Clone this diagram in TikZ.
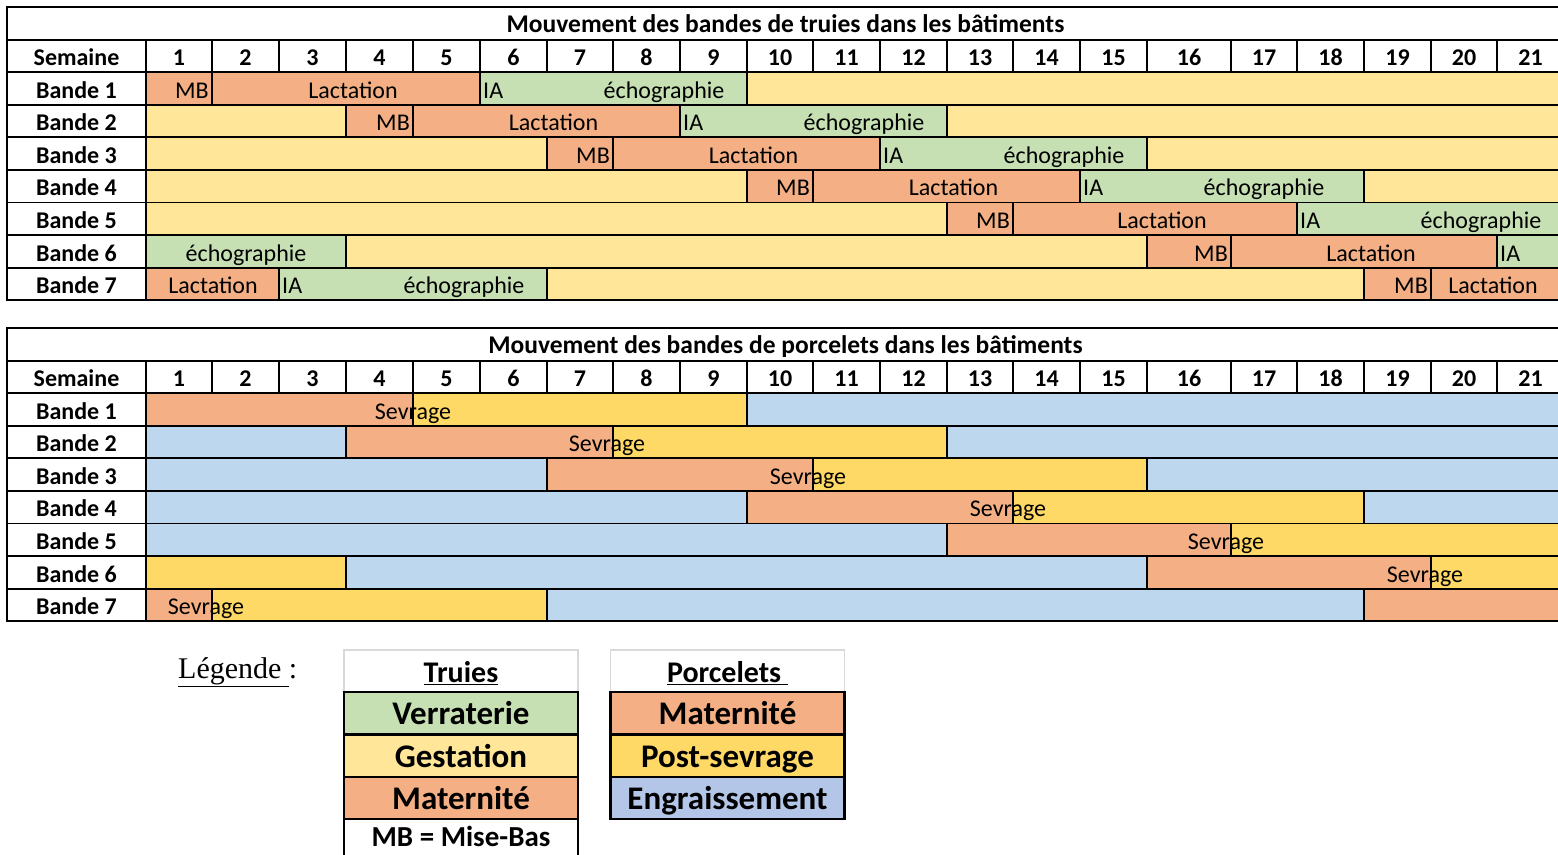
\documentclass[tikz,border=0pt]{standalone}
\usepackage{fontspec}
\setmainfont{Carlito}
\newfontfamily\serifleg{Liberation Serif}
\usetikzlibrary{positioning}

\definecolor{verraterie}{HTML}{C6E0B4}
\definecolor{gestation}{HTML}{FFE699}
\definecolor{maternite}{HTML}{F4B084}
\definecolor{postsevrage}{HTML}{FFD966}
\definecolor{engraissement}{HTML}{BDD7EE}
\definecolor{engraisleg}{HTML}{B4C6E7}

\tikzset{
  grid line/.style={line width=1.8pt},
  head/.style={anchor=base,inner sep=0pt,font=\fontsize{24}{28}\selectfont\bfseries},
  txt/.style={anchor=base,inner sep=0pt,font=\fontsize{24}{28}\selectfont},
  legend box/.style={draw,line width=2.4pt,outer sep=0pt,inner sep=0pt,
    minimum width=234pt,minimum height=42.3pt,text height=25pt,text depth=2pt,
    font=\fontsize{33}{36}\selectfont\bfseries},
}

% left edges of the weeks, the last one closes week 21
\def\wk{{146,212,279,346,413,480,547,613,680,747,813,880,947,1013,1080,1147,1231,1297,1364,1431,1497,1564}}

% \phase{band}{first edge}{last edge}{colour}
\newcommand{\phase}[4]{%
  \pgfmathsetmacro{\xa}{\wk[#2]}%
  \pgfmathsetmacro{\xb}{\wk[#3]}%
  \pgfmathsetmacro{\ya}{72+32.6*(#1-1)}%
  \draw[grid line,fill=#4] (\xa,\ya) rectangle (\xb,\ya+32.6);%
}

% title row, week row and band labels; #1 = prefix of the node names
\newcommand{\tableframe}[2]{%
  \draw[grid line] (7,7) rectangle (1600,40);
  \node[head,font=\fontsize{25.5}{28}\selectfont\bfseries] (#1title) at (785.5,32.5) {#2};
  \draw[grid line] (7,40) rectangle (146,72);
  \node[head] (#1sem) at (76.5,65) {Semaine};
  \foreach \i in {1,...,21}{%
    \pgfmathsetmacro{\xa}{\wk[\i-1]}%
    \pgfmathsetmacro{\xb}{\wk[\i]}%
    \draw[grid line] (\xa,40) rectangle (\xb,72);
    \node[head] (#1s\i) at ({(\xa+\xb)/2},65) {\i};
  }
  \foreach \r in {1,...,7}{%
    \pgfmathsetmacro{\ya}{72+32.6*(\r-1)}%
    \draw[grid line] (7,\ya) rectangle (146,\ya+32.6);
    \node[head] (#1b\r) at (76.5,\ya+26) {Bande \r};
  }
}

\begin{document}
\begin{tikzpicture}[x=1pt,y=-1pt]
  \useasboundingbox (0,0) rectangle (1558,854);

  % truies
  \tableframe{t}{Mouvement des bandes de truies dans les bâtiments}
  \phase{1}{0}{1}{maternite} \phase{1}{1}{5}{maternite} \phase{1}{5}{9}{verraterie} \phase{1}{9}{21}{gestation}
  \phase{2}{0}{3}{gestation} \phase{2}{3}{4}{maternite} \phase{2}{4}{8}{maternite} \phase{2}{8}{12}{verraterie} \phase{2}{12}{21}{gestation}
  \phase{3}{0}{6}{gestation} \phase{3}{6}{7}{maternite} \phase{3}{7}{11}{maternite} \phase{3}{11}{15}{verraterie} \phase{3}{15}{21}{gestation}
  \phase{4}{0}{9}{gestation} \phase{4}{9}{10}{maternite} \phase{4}{10}{14}{maternite} \phase{4}{14}{18}{verraterie} \phase{4}{18}{21}{gestation}
  \phase{5}{0}{12}{gestation} \phase{5}{12}{13}{maternite} \phase{5}{13}{17}{maternite} \phase{5}{17}{21}{verraterie}
  \phase{6}{0}{3}{verraterie} \phase{6}{3}{15}{gestation} \phase{6}{15}{16}{maternite} \phase{6}{16}{20}{maternite} \phase{6}{20}{21}{verraterie}
  \phase{7}{0}{2}{maternite} \phase{7}{2}{6}{verraterie} \phase{7}{6}{18}{gestation} \phase{7}{18}{19}{maternite} \phase{7}{19}{21}{maternite}

  \node[txt,anchor=base east] (t1mb) at (209,98) {MB};
  \node[txt] (t1lac) at (353,98) {Lactation};
  \node[txt,anchor=base west] (t1ia) at (483,98) {IA};
  \node[txt] (t1echo) at (664,98) {échographie};

  \node[txt,anchor=base east] (t2mb) at (410,130.6) {MB};
  \node[txt] (t2lac) at (553.5,130.6) {Lactation};
  \node[txt,anchor=base west] (t2ia) at (683,130.6) {IA};
  \node[txt] (t2echo) at (864,130.6) {échographie};

  \node[txt,anchor=base east] (t3mb) at (610,163.2) {MB};
  \node[txt] (t3lac) at (753.5,163.2) {Lactation};
  \node[txt,anchor=base west] (t3ia) at (883,163.2) {IA};
  \node[txt] (t3echo) at (1064,163.2) {échographie};

  \node[txt,anchor=base east] (t4mb) at (810,195.8) {MB};
  \node[txt] (t4lac) at (953.5,195.8) {Lactation};
  \node[txt,anchor=base west] (t4ia) at (1083,195.8) {IA};
  \node[txt] (t4echo) at (1264,195.8) {échographie};

  \node[txt,anchor=base east] (t5mb) at (1010,228.4) {MB};
  \node[txt] (t5lac) at (1162,228.4) {Lactation};
  \node[txt,anchor=base west] (t5ia) at (1300,228.4) {IA};
  \node[txt] (t5echo) at (1481,228.4) {échographie};

  \node[txt] (t6echo) at (246,261) {échographie};
  \node[txt,anchor=base east] (t6mb) at (1228,261) {MB};
  \node[txt] (t6lac) at (1371,261) {Lactation};
  \node[txt,anchor=base west] (t6ia) at (1500,261) {IA};

  \node[txt] (t7lac) at (213,293.6) {Lactation};
  \node[txt,anchor=base west] (t7ia) at (282,293.6) {IA};
  \node[txt] (t7echo) at (464,293.6) {échographie};
  \node[txt,anchor=base east] (t7mb) at (1428,293.6) {MB};
  \node[txt] (t7lacb) at (1493,293.6) {Lactation};

  % porcelets
  \begin{scope}[yshift=-321pt]
    \tableframe{p}{Mouvement des bandes de porcelets dans les bâtiments}
    \phase{1}{0}{4}{maternite} \phase{1}{4}{9}{postsevrage} \phase{1}{9}{21}{engraissement}
    \phase{2}{0}{3}{engraissement} \phase{2}{3}{7}{maternite} \phase{2}{7}{12}{postsevrage} \phase{2}{12}{21}{engraissement}
    \phase{3}{0}{6}{engraissement} \phase{3}{6}{10}{maternite} \phase{3}{10}{15}{postsevrage} \phase{3}{15}{21}{engraissement}
    \phase{4}{0}{9}{engraissement} \phase{4}{9}{13}{maternite} \phase{4}{13}{18}{postsevrage} \phase{4}{18}{21}{engraissement}
    \phase{5}{0}{12}{engraissement} \phase{5}{12}{16}{maternite} \phase{5}{16}{21}{postsevrage}
    \phase{6}{0}{3}{postsevrage} \phase{6}{3}{15}{engraissement} \phase{6}{15}{19}{maternite} \phase{6}{19}{21}{postsevrage}
    \phase{7}{0}{1}{maternite} \phase{7}{1}{6}{postsevrage} \phase{7}{6}{18}{engraissement} \phase{7}{18}{21}{maternite}

    \node[txt] (p1sev) at (413,98) {Sevrage};
    \node[txt] (p2sev) at (607,130.6) {Sevrage};
    \node[txt] (p3sev) at (808,163.2) {Sevrage};
    \node[txt] (p4sev) at (1008,195.8) {Sevrage};
    \node[txt] (p5sev) at (1226,228.4) {Sevrage};
    \node[txt] (p6sev) at (1425,261) {Sevrage};
    \node[txt] (p7sev) at (206,293.6) {Sevrage};
  \end{scope}

  % legende
  \node[anchor=base west,inner sep=0pt,font=\serifleg\fontsize{30}{33}\selectfont] (leg) at (178,678) {\underline{Légende }:};

  \node[legend box,draw=black!15,line width=1.5pt,font=\fontsize{30}{34}\selectfont\bfseries] (truies) at (461,671) {\underline{Truies}};
  \node[legend box,fill=verraterie,below=0pt of truies] (verrat) {Verraterie};
  \node[legend box,fill=gestation,below=0pt of verrat] (gest) {Gestation};
  \node[legend box,fill=maternite,below=0pt of gest] (mater) {Maternité};
  \node[legend box,text height=21pt,text depth=8pt,font=\fontsize{29}{32}\selectfont\bfseries,below=0pt of mater] (mb) {MB = Mise-Bas};

  \node[legend box,draw=black!15,line width=1.5pt,font=\fontsize{30}{34}\selectfont\bfseries] (porc) at (727.5,671) {\underline{Porcelets }};
  \node[legend box,fill=maternite,below=0pt of porc] (pmater) {Maternité};
  \node[legend box,fill=postsevrage,below=0pt of pmater] (psev) {Post-sevrage};
  \node[legend box,fill=engraisleg,below=0pt of psev] (pengr) {Engraissement};
\end{tikzpicture}
\end{document}
